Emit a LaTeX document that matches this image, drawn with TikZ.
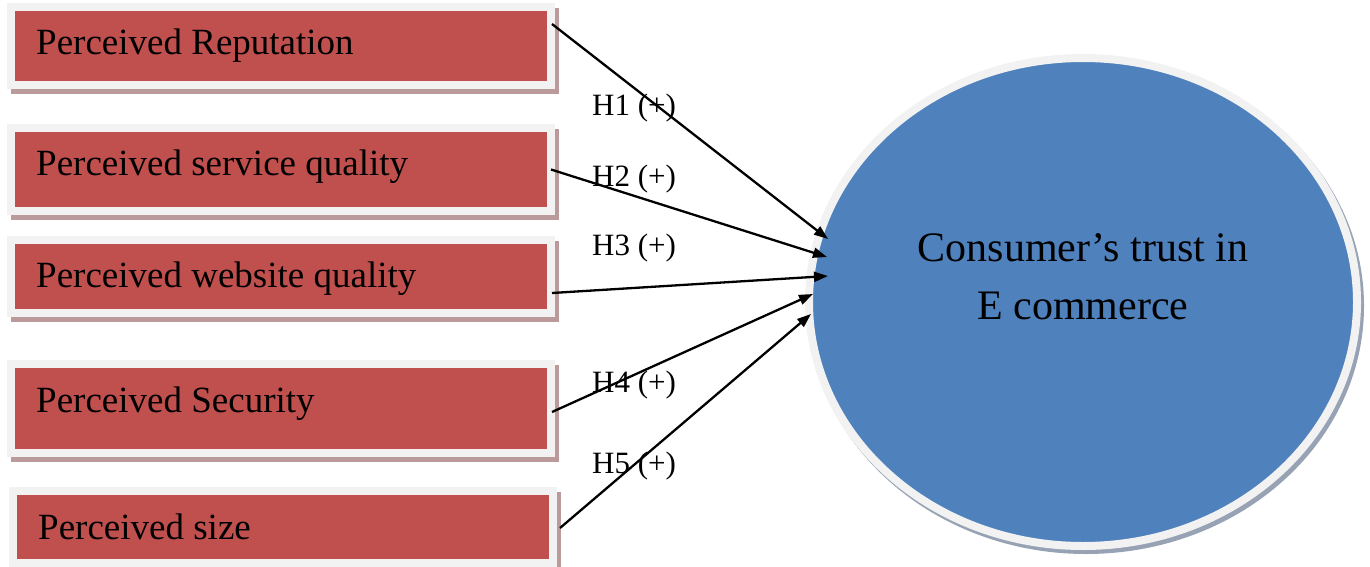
\documentclass[tikz,border=0pt]{standalone}
\usepackage{fontspec}
\setmainfont{Liberation Serif}
\usetikzlibrary{arrows.meta,shapes.geometric}
\definecolor{boxred}{HTML}{C0504D}
\definecolor{ringgray}{HTML}{F2F2F2}
\definecolor{boxshadow}{HTML}{BA9A9A}
\definecolor{ellblue}{HTML}{4F81BD}
\definecolor{ellshadow}{HTML}{97A3B4}
\tikzset{
  factor/.style={rectangle, fill=boxred, draw=ringgray, line width=8pt,
    minimum width=540pt, inner sep=0pt, outer sep=0pt,
    preaction={draw=boxshadow, fill=boxshadow, line width=8pt,
      transform canvas={shift={(3.5pt,-5pt)}}}},
  factorlabel/.style={anchor=base west, inner sep=0pt, font=\fontsize{37}{44}\selectfont},
  hyplabel/.style={anchor=base west, inner sep=0pt, font=\fontsize{31}{37}\selectfont},
  trustlabel/.style={anchor=base, inner sep=0pt, font=\fontsize{42}{50}\selectfont},
  trust/.style={ellipse, fill=ellblue, draw=ringgray, line width=8pt,
    minimum width=548pt, minimum height=488pt, inner sep=0pt, outer sep=0pt,
    preaction={draw=ellshadow, line width=8pt,
      transform canvas={shift={(3pt,-4pt)}}}},
  link/.style={line width=2.3pt, -{Triangle[length=14pt,width=10pt]}}
}
\begin{document}
\begin{tikzpicture}[x=1pt,y=-1pt]
\useasboundingbox (0,0) rectangle (1370,567);
% factor boxes
\node[factor, minimum height=78pt] (b1) at (281,46) {};
\node[factor, minimum height=83pt] (b2) at (281,169.5) {};
\node[factor, minimum height=73pt] (b3) at (281,276.5) {};
\node[factor, minimum height=89pt] (b4) at (281,408.5) {};
\node[factor, minimum height=72pt] (b5) at (283,527) {};
\node[factorlabel] (l1) at (36,55) {Perceived Reputation};
\node[factorlabel] (l2) at (36,175) {Perceived service quality};
\node[factorlabel] (l3) at (36,287) {Perceived website quality};
\node[factorlabel] (l4) at (36,412) {Perceived Security};
\node[factorlabel] (l5) at (38,539) {Perceived size};
% outcome ellipse
\node[trust] (e) at (1083,302) {};
\node[trustlabel] (e1) at (1083,261) {Consumer’s trust in};
\node[trustlabel] (e2) at (1083,319) {E commerce};
% hypothesis labels
\node[hyplabel] (h1) at (592,116) {H1 (+)};
\node[hyplabel] (h2) at (592,186) {H2 (+)};
\node[hyplabel] (h3) at (592,255) {H3 (+)};
\node[hyplabel] (h4) at (592,392) {H4 (+)};
\node[hyplabel] (h5) at (592,473) {H5 (+)};
% arrow end points
\coordinate (s1) at ([xshift=1pt,yshift=22pt]b1.east);
\coordinate (s2) at (b2.east);
\coordinate (s3) at ([xshift=1pt,yshift=-16.5pt]b3.east);
\coordinate (s4) at ([xshift=1pt,yshift=-3.5pt]b4.east);
\coordinate (s5) at ([xshift=7pt,yshift=-1pt]b5.east);
\coordinate (t1) at (828,239);
\coordinate (t2) at (827,257);
\coordinate (t3) at (828,276);
\coordinate (t4) at (813,294);
\coordinate (t5) at (811,314);
\draw[link] (s1) -- (t1);
\draw[link] (s2) -- (t2);
\draw[link] (s3) -- (t3);
\draw[link] (s4) -- (t4);
\draw[link] (s5) -- (t5);
\end{tikzpicture}
\end{document}
